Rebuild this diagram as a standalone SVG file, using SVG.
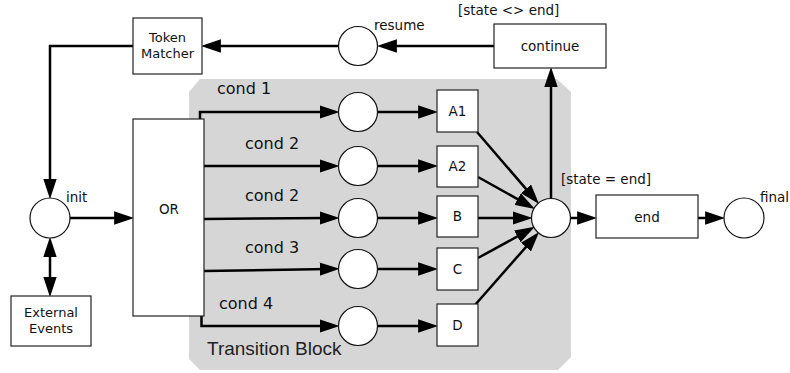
<svg xmlns="http://www.w3.org/2000/svg" width="790" height="373" viewBox="0 0 790 373">
  <defs>
    <marker id="arrow" markerUnits="userSpaceOnUse" markerWidth="20" markerHeight="14" viewBox="0 0 18 12" refX="8" refY="6" orient="auto-start-reverse">
      <path d="M0,0 L18,6 L0,12 z" fill="#000"/>
    </marker>
    <style>
      .box { fill: #fff; stroke: #222; stroke-width: 1.2; }
      .place { fill: #fff; stroke: #111; stroke-width: 1.2; }
      .lbl { font-family: "DejaVu Sans", Verdana, sans-serif; font-size: 13.5px; fill: #111; text-anchor: middle; }
      .lbl2 { font-family: "DejaVu Sans", Verdana, sans-serif; font-size: 13px; fill: #111; text-anchor: middle; }
      .note { font-family: "DejaVu Sans", Verdana, sans-serif; font-size: 13.5px; fill: #111; }
      .cond { font-family: "DejaVu Sans", Verdana, sans-serif; font-size: 16px; fill: #111; }
      .edge { fill: none; stroke: #000; stroke-width: 2.5; }
      .arr { marker-end: url(#arrow); }
    </style>
  </defs>

  <!-- transition block background -->
  <g id="transition-block">
    <polygon points="200,79 557,79 571,92 571,357 558,370 200,370 189,359 189,92" fill="#d6d6d6"/>
    <text x="207" y="355" font-family="Liberation Sans, Arial, sans-serif" font-size="19" fill="#222">Transition Block</text>
  </g>

  <!-- connectors -->
  <g id="connectors">
    <polyline class="edge arr" points="494,46 388,46"/>
    <polyline class="edge arr" points="338.5,46 212,46"/>
    <polyline class="edge arr" points="133,46 50,46 50,188"/>
    <polyline class="edge arr" points="70,218 123,218"/>
    <polyline class="edge" points="50,248 50,286" marker-start="url(#arrow)" marker-end="url(#arrow)"/>

    <polyline class="edge arr" points="200,119 200,112 328.5,112"/>
    <polyline class="edge arr" points="204,166 328.5,166"/>
    <polyline class="edge arr" points="204,219 328.5,218"/>
    <polyline class="edge arr" points="204,271 328.5,269"/>
    <polyline class="edge arr" points="201.5,316 201.5,326 328.5,326"/>

    <polyline class="edge arr" points="377.5,112 427,112"/>
    <polyline class="edge arr" points="377.5,166 427,166"/>
    <polyline class="edge arr" points="377.5,218 427,218"/>
    <polyline class="edge arr" points="377.5,269 427,269"/>
    <polyline class="edge arr" points="377.5,326 427,326"/>

    <polyline class="edge arr" points="477,132 531.8,195.6"/>
    <polyline class="edge arr" points="478,177 525.3,203.5"/>
    <polyline class="edge arr" points="478,218 521.5,218"/>
    <polyline class="edge arr" points="478,258 525.1,232.2"/>
    <polyline class="edge arr" points="475,305 531.8,240.4"/>

    <polyline class="edge arr" points="551,198.5 551,78"/>
    <polyline class="edge arr" points="570.5,218 586,218"/>
    <polyline class="edge arr" points="698,218 714,218"/>
  </g>

  <!-- condition labels -->
  <g id="cond-labels">
    <text class="cond" x="217" y="94">cond 1</text>
    <text class="cond" x="245" y="149">cond 2</text>
    <text class="cond" x="245" y="201">cond 2</text>
    <text class="cond" x="245" y="253">cond 3</text>
    <text class="cond" x="219" y="309">cond 4</text>
  </g>

  <g id="token-matcher">
    <rect class="box" x="133" y="18" width="69" height="56"/>
    <text class="lbl2" x="167.5" y="42">Token</text>
    <text class="lbl2" x="167.5" y="57.5">Matcher</text>
  </g>

  <g id="resume">
    <circle class="place" cx="358" cy="46" r="19.5"/>
    <text class="note" x="374" y="30">resume</text>
  </g>

  <g id="continue">
    <rect class="box" x="494" y="24" width="112" height="44"/>
    <text class="lbl" x="550" y="51">continue</text>
    <text class="note" x="458" y="15">[state &lt;&gt; end]</text>
  </g>

  <g id="init">
    <circle class="place" cx="50" cy="218" r="20"/>
    <text class="note" x="66" y="202" font-size="13">init</text>
  </g>

  <g id="external-events">
    <rect class="box" x="11" y="296" width="80" height="50"/>
    <text class="lbl2" x="51" y="317">External</text>
    <text class="lbl2" x="51" y="332.5">Events</text>
  </g>

  <g id="or">
    <rect class="box" x="133" y="119" width="71" height="197"/>
    <text class="lbl" x="169" y="214">OR</text>
  </g>

  <g id="c1"><circle class="place" cx="358" cy="112" r="19.5"/></g>
  <g id="c2"><circle class="place" cx="358" cy="166" r="19.5"/></g>
  <g id="c3"><circle class="place" cx="358" cy="218" r="19.5"/></g>
  <g id="c4"><circle class="place" cx="358" cy="269" r="19.5"/></g>
  <g id="c5"><circle class="place" cx="358" cy="326" r="19.5"/></g>

  <g id="A1">
    <rect class="box" x="437" y="90" width="41" height="42"/>
    <text class="lbl" x="457.5" y="116" font-size="14">A1</text>
  </g>
  <g id="A2">
    <rect class="box" x="437" y="146" width="41" height="41"/>
    <text class="lbl" x="457.5" y="171" font-size="14">A2</text>
  </g>
  <g id="B">
    <rect class="box" x="437" y="196" width="41" height="41"/>
    <text class="lbl" x="457.5" y="221" font-size="14">B</text>
  </g>
  <g id="C">
    <rect class="box" x="437" y="248" width="41" height="42"/>
    <text class="lbl" x="457.5" y="274" font-size="14">C</text>
  </g>
  <g id="D">
    <rect class="box" x="437" y="304" width="41" height="42"/>
    <text class="lbl" x="457.5" y="330" font-size="14">D</text>
  </g>

  <g id="merge">
    <circle class="place" cx="551" cy="218" r="19.5"/>
    <text class="note" x="561" y="184">[state = end]</text>
  </g>

  <g id="end">
    <rect class="box" x="596" y="195" width="102" height="43"/>
    <text class="lbl" x="647" y="222">end</text>
  </g>

  <g id="final">
    <circle class="place" cx="744" cy="218" r="20"/>
    <text class="note" x="760" y="202" font-size="13">final</text>
  </g>
</svg>
